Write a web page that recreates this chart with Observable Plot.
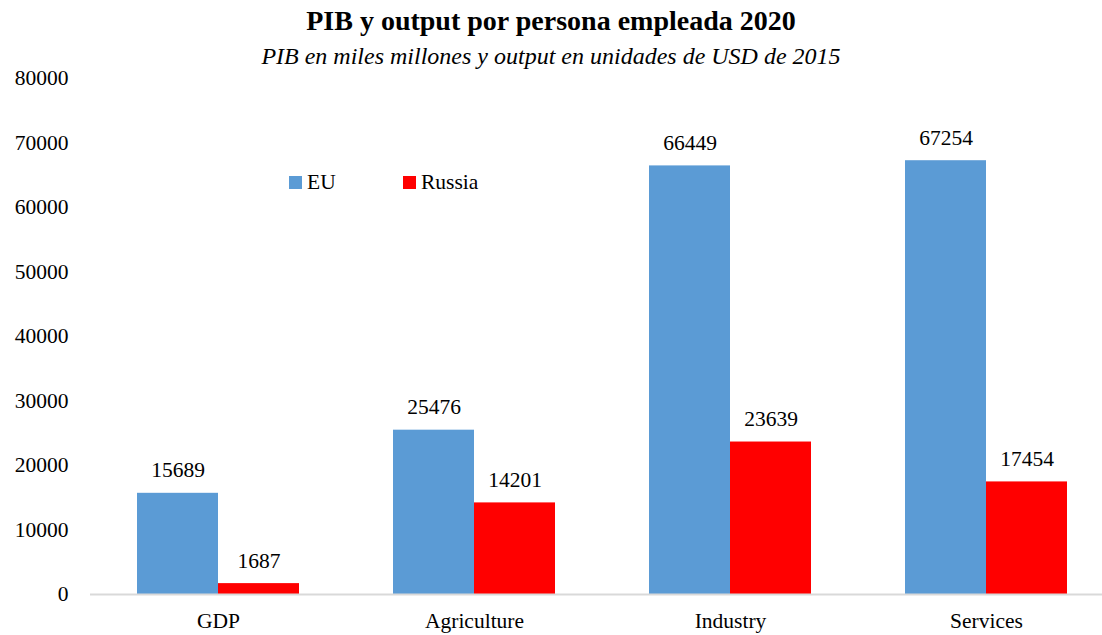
<!DOCTYPE html>
<html><head><meta charset="utf-8">
<script src="https://cdn.jsdelivr.net/npm/d3@7"></script>
<script src="https://cdn.jsdelivr.net/npm/@observablehq/plot@0.6"></script>
<style>
body{margin:0;background:#fff;font-family:"Liberation Serif",serif;}
#wrap{position:relative;width:1102px;height:635px;}
#title{position:absolute;left:0;width:1102px;top:5px;text-align:center;font-weight:bold;font-size:28px;color:#000;}
#sub{position:absolute;left:0;width:1102px;top:43px;text-align:center;font-style:italic;font-size:24px;color:#000;}
.leg{position:absolute;top:170px;font-size:21.5px;display:flex;align-items:center;}
.leg span.sw{display:inline-block;width:13px;height:13px;margin-right:5px;}
</style></head><body>
<div id="wrap">
<div id="title">PIB y output por persona empleada 2020</div>
<div id="sub">PIB en miles millones y output en unidades de USD de 2015</div>
<div class="leg" style="left:289px"><span class="sw" style="background:#5B9BD5"></span>EU</div>
<div class="leg" style="left:403px"><span class="sw" style="background:#FF0000"></span>Russia</div>
</div>
<script>
const categories = ["GDP", "Agriculture", "Industry", "Services"];
const seriesNames = ["EU", "Russia"];
const euValues = [15689, 25476, 66449, 67254];
const russiaValues = [1687, 14201, 23639, 17454];
const yTicks = [0, 10000, 20000, 30000, 40000, 50000, 60000, 70000, 80000];
const colors = ["#5B9BD5", "#FF0000"];

const data = [];
categories.forEach((c, i) => {
  data.push({cat: c, series: "EU", value: euValues[i]});
  data.push({cat: c, series: "Russia", value: russiaValues[i]});
});

const chart = Plot.plot({
  width: 1102,
  height: 635,
  marginTop: 78,
  marginBottom: 41,
  marginLeft: 89,
  marginRight: 0,
  style: {fontFamily: "'Liberation Serif', serif", fontSize: "21.5px", color: "#000", background: "transparent"},
  fx: {domain: categories, range: [89, 1115], padding: 0, axis: "bottom", tickSize: 0, tickPadding: 18, label: null},
  x: {domain: seriesNames, paddingInner: 0, paddingOuter: 0.578, axis: null},
  y: {domain: [0, 80000], ticks: yTicks, tickFormat: d3.format("d"), tickSize: 0, tickPadding: 22, label: null},
  color: {domain: seriesNames, range: colors},
  marks: [
    Plot.barY(data, {fx: "cat", x: "series", y: "value", fill: "series", inset: 0}),
    Plot.ruleY([0], {stroke: "#D9D9D9", strokeWidth: 2}),
    Plot.text(data, {fx: "cat", x: "series", y: "value", text: d => String(d.value), lineAnchor: "bottom", dy: -16, fontSize: 21.5, fill: "#000"})
  ]
});
document.getElementById("wrap").prepend(chart);
chart.style.position = "absolute";
chart.style.left = "0";
chart.style.top = "0";
</script>
</body></html>
